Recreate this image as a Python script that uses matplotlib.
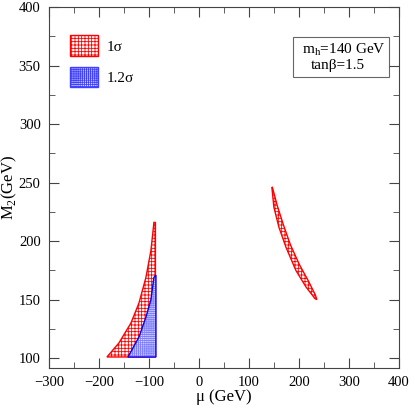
import matplotlib
matplotlib.use('Agg')
import matplotlib.pyplot as plt
from matplotlib.patches import Polygon, Patch, Rectangle

plt.rcParams['font.family'] = ['Liberation Serif', 'DejaVu Serif']
plt.rcParams['hatch.linewidth'] = 0.6

# 1 sigma region, negative mu (closed boundary)
red_neg_mu = [-184, -160, -136, -120, -106, -96, -90, -87, -87]
red_neg_m2 = [101, 113, 130, 147, 169, 192, 216, 216, 101]
# 1.2 sigma region, negative mu
blue_neg_mu = [-142, -120, -106, -96, -90, -86, -86]
blue_neg_m2 = [101, 118, 135, 150, 169, 171, 101]
# 1 sigma band, positive mu (upper edge then lower edge)
red_pos_mu = [147, 157, 169, 183, 201, 219, 233, 236, 232, 214, 194, 174, 160, 150, 146]
red_pos_m2 = [246, 230, 214, 197, 180, 166, 154, 150, 151, 161, 175, 195, 212, 229, 246]

fig = plt.figure(figsize=(4.15, 4.15), dpi=100)
ax = fig.add_axes([0.118, 0.113, 0.843, 0.870])

red_style = dict(facecolor='white', edgecolor='red', hatch='+++++', lw=1.0)
ax.add_patch(Polygon(list(zip(red_neg_mu, red_neg_m2)), closed=True, **red_style))
ax.add_patch(Polygon(list(zip(red_pos_mu, red_pos_m2)), closed=True, **red_style))

# blue: light fine hatch, then a blue outline
blue_pts = list(zip(blue_neg_mu, blue_neg_m2))
ax.add_patch(Polygon(blue_pts, closed=True, facecolor='#e4e4ff', edgecolor='#7f7fff',
                     hatch='++++++++', lw=0))
ax.add_patch(Polygon(blue_pts, closed=True, fill=False, edgecolor='blue', lw=1.0))

ax.set_xlim(-300, 400)
ax.set_ylim(91.5, 400)
ax.set_xticks(range(-300, 401, 100))
ax.set_xticks(range(-250, 400, 100), minor=True)
ax.set_yticks(range(100, 401, 50))
ax.set_yticks(range(125, 400, 50), minor=True)
ax.tick_params(which='both', direction='in', top=True, right=True, labelsize=10.5, color='#444444')
ax.tick_params(which='major', length=7, pad=6)
ax.tick_params(which='minor', length=4)
ax.set_xticklabels(['\u2212300', '\u2212200', '\u2212100', '0', '100', '200', '300', '400'])
for s in ax.spines.values():
    s.set_color('#444444')

ax.set_xlabel('\u03bc (GeV)', fontsize=12, labelpad=0)
ax.set_ylabel('M$_\\mathregular{2}$(GeV)', fontsize=12, labelpad=0)

handles = [Patch(facecolor='white', edgecolor='red', hatch='+++++', label='1\u03c3'),
           Patch(facecolor='#e4e4ff', edgecolor='#4040ff', hatch='++++++++', label='1.2\u03c3')]
ax.legend(handles=handles, loc='upper left', bbox_to_anchor=(0.02, 0.96), frameon=False,
          fontsize=11, handlelength=1.85, handleheight=1.7, labelspacing=0.72, handletextpad=0.55)

ax.add_patch(Rectangle((0.697, 0.805), 0.275, 0.112, transform=ax.transAxes,
                       facecolor='white', edgecolor='#666666', lw=0.8))
ax.text(0.722, 0.872, 'm$_\\mathregular{h}$=140 GeV', transform=ax.transAxes, fontsize=11)
ax.text(0.748, 0.828, 'tan\u03b2=1.5', transform=ax.transAxes, fontsize=11)

fig.savefig('out.png', dpi=100)
